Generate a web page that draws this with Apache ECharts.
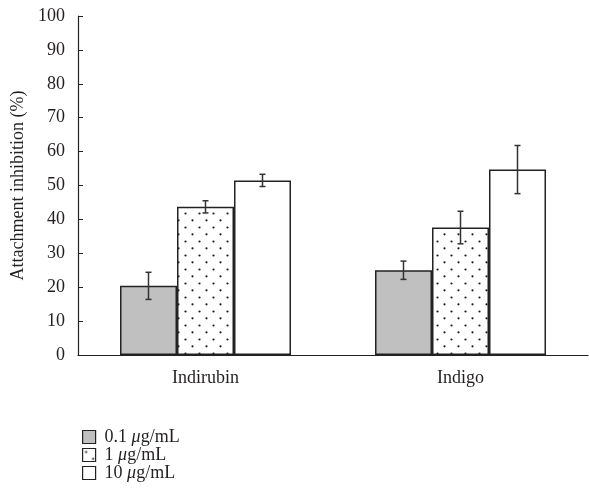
<!DOCTYPE html>
<html><head><meta charset="utf-8">
<script src="https://cdn.jsdelivr.net/npm/echarts@6/dist/echarts.min.js"></script>
<style>html,body{margin:0;padding:0;background:#fff}#c{width:589px;height:504px}</style>
</head><body><div id="c"></div>
<script>
const categories = ['Indirubin', 'Indigo'];
const seriesNames = ['0.1 μg/mL', '1 μg/mL', '10 μg/mL'];
const conc01 = [20.4, 25.0];
const conc1 = [43.7, 37.6];
const conc10 = [51.5, 54.7];
const err01 = [4.0, 2.7];
const err1 = [1.8, 4.8];
const err10 = [1.8, 7.1];
const yTicks = [0, 10, 20, 30, 40, 50, 60, 70, 80, 90, 100];

const FONT = '"Liberation Serif", "Times New Roman", serif';
const FS = 18;
const TXT = '#231f20';
const BAR_W = 57;

// dotted pattern
const pat = document.createElement('canvas');
pat.width = 14; pat.height = 14;
const pc = pat.getContext('2d');
pc.fillStyle = '#fff'; pc.fillRect(0, 0, 14, 14);
pc.fillStyle = '#1a1a1a';
pc.beginPath(); pc.arc(3.5, 3.5, 1.1, 0, Math.PI * 2); pc.fill();
pc.beginPath(); pc.arc(10.5, 10.3, 1.1, 0, Math.PI * 2); pc.fill();

const values = [conc01, conc1, conc10];
const errors = [err01, err1, err10];
const fills = ['#c0c0c0', {image: pat, repeat: 'repeat'}, '#ffffff'];

const series = [];
values.forEach((v, k) => {
  series.push({
    name: seriesNames[k], type: 'bar', data: v, barWidth: BAR_W, barGap: '0%',
    itemStyle: {color: fills[k], borderColor: '#222', borderWidth: 1.5},
    emphasis: {disabled: true}, z: 2
  });
});
values.forEach((v, k) => {
  series.push({
    type: 'custom', z: 5, silent: true,
    data: v.map((val, i) => [i, val - errors[k][i], val + errors[k][i]]),
    renderItem: function (params, api) {
      const i = api.value(0);
      const lo = api.coord([i, api.value(1)]);
      const hi = api.coord([i, api.value(2)]);
      const x = lo[0] + (k - 1) * BAR_W;
      const cap = 3;
      const st = {stroke: '#333', lineWidth: 1.5};
      return {type: 'group', children: [
        {type: 'line', shape: {x1: x, y1: lo[1], x2: x, y2: hi[1]}, style: st},
        {type: 'line', shape: {x1: x - cap, y1: lo[1], x2: x + cap, y2: lo[1]}, style: st},
        {type: 'line', shape: {x1: x - cap, y1: hi[1], x2: x + cap, y2: hi[1]}, style: st}
      ]};
    }
  });
});

const chart = echarts.init(document.getElementById('c'), null, {renderer: 'canvas'});
chart.setOption({
  animation: false,
  backgroundColor: '#fff',
  grid: {left: 78, right: 1, top: 16, bottom: 149},
  legend: {
    orient: 'vertical', left: 77, top: 423, itemWidth: 13, itemHeight: 13, itemGap: 0,
    icon: 'rect',
    data: seriesNames,
    formatter: function (name) {
      const parts = name.split('μ');
      return '{n|' + parts[0] + '}{i|μ}{n|' + parts[1] + '}';
    },
    textStyle: {
      padding: [0, 0, 0, 4],
      rich: {
        n: {fontFamily: FONT, fontSize: FS, color: TXT, lineHeight: 19},
        i: {fontFamily: FONT, fontSize: FS, color: TXT, fontStyle: 'italic', lineHeight: 19}
      }
    },
    itemStyle: {borderColor: '#222', borderWidth: 1.2}
  },
  xAxis: {
    type: 'category', data: categories,
    axisLine: {lineStyle: {color: '#222', width: 1.2}},
    axisTick: {inside: true, length: 4, lineStyle: {color: '#222'}},
    axisLabel: {fontFamily: FONT, fontSize: FS, color: TXT, margin: 14},
    splitLine: {show: false}
  },
  yAxis: {
    type: 'value', min: yTicks[0], max: yTicks[yTicks.length - 1], interval: 10,
    name: 'Attachment inhibition (%)', nameLocation: 'middle', nameGap: 49,
    nameTextStyle: {fontFamily: FONT, fontSize: FS, color: TXT},
    axisLine: {show: true, lineStyle: {color: '#222', width: 1.2}},
    axisTick: {show: true, inside: true, length: 5, lineStyle: {color: '#222'}},
    axisLabel: {fontFamily: FONT, fontSize: FS, color: TXT, margin: 13},
    splitLine: {show: false}
  },
  series: series
});
</script></body></html>
